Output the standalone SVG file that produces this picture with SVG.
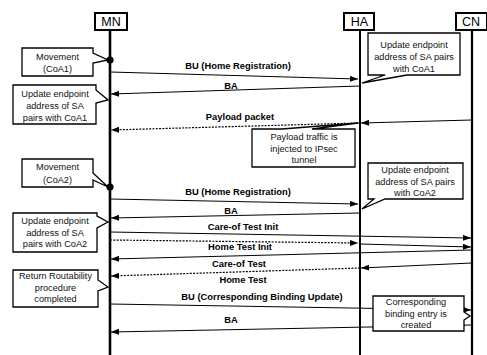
<svg xmlns="http://www.w3.org/2000/svg" width="487" height="355" viewBox="0 0 487 355">
<style>
.hdr{fill:#fff;stroke:#000;stroke-width:2}
.hdrt{font-family:"Liberation Sans",Arial,sans-serif;font-size:12.5px;text-anchor:middle;fill:#000}
.life{stroke:#000;fill:none}
.msg{stroke:#000;stroke-width:1.2;fill:none;marker-end:url(#ah)}
.dot{stroke-dasharray:2,1.3}
.lbl{font-family:"Liberation Sans",Arial,sans-serif;font-size:9.4px;font-weight:bold;text-anchor:middle;fill:#000}
.note{fill:#fff;stroke:#000;stroke-width:1.3;stroke-linejoin:miter}
.nt{font-family:"Liberation Sans",Arial,sans-serif;font-size:9.2px;text-anchor:middle;fill:#111}
</style>
<defs>
<marker id="ah" markerUnits="userSpaceOnUse" markerWidth="9" markerHeight="7" refX="8" refY="3" orient="auto">
<path d="M0,0 L8,3 L0,6 z" fill="#000"/>
</marker>
</defs>
<rect width="487" height="355" fill="#fff"/>

<g id="MN">
<line class="life" x1="110" y1="30" x2="110" y2="355" stroke-width="2.6"/>
<rect class="hdr" x="95" y="13" width="32" height="17"/>
<text class="hdrt" x="111" y="26">MN</text>
</g>
<g id="HA">
<line class="life" x1="360" y1="30" x2="360" y2="355" stroke-width="2"/>
<rect class="hdr" x="344" y="13" width="30" height="17"/>
<text class="hdrt" x="359.5" y="26">HA</text>
</g>
<g id="CN">
<line class="life" x1="472" y1="30" x2="472" y2="355" stroke-width="2.2"/>
<rect class="hdr" x="456" y="13" width="31" height="17"/>
<text class="hdrt" x="471" y="26">CN</text>
</g>

<g id="connectors">
<line class="msg" x1="110" y1="72" x2="358" y2="79"/>
<text class="lbl" x="238" y="69">BU (Home Registration)</text>
<line class="msg" x1="360" y1="86" x2="111" y2="94"/>
<text class="lbl" x="231" y="89">BA</text>
<line class="msg" x1="472" y1="120" x2="361" y2="123"/>
<line class="msg dot" x1="359" y1="123" x2="111" y2="130"/>
<text class="lbl" x="240" y="120">Payload packet</text>

<line class="msg" x1="110" y1="199" x2="358" y2="204"/>
<text class="lbl" x="238" y="195">BU (Home Registration)</text>
<line class="msg" x1="360" y1="213" x2="111" y2="218"/>
<text class="lbl" x="231" y="214">BA</text>

<line class="msg" x1="110" y1="232" x2="471" y2="238"/>
<text class="lbl" x="243" y="230">Care-of Test Init</text>
<line class="msg dot" x1="110" y1="240" x2="358" y2="243"/>
<line class="msg" x1="360" y1="244" x2="471" y2="247"/>
<text class="lbl" x="240" y="250">Home Test Init</text>
<line class="msg" x1="472" y1="250" x2="111" y2="259"/>
<text class="lbl" x="239" y="267">Care-of Test</text>
<line class="msg" x1="472" y1="263" x2="361" y2="268"/>
<line class="msg dot" x1="360" y1="268" x2="111" y2="276"/>
<text class="lbl" x="243" y="283">Home Test</text>
<line class="msg" x1="110" y1="304" x2="471" y2="310"/>
<text class="lbl" x="262" y="300">BU (Corresponding Binding Update)</text>
<line class="msg" x1="472" y1="325" x2="111" y2="332"/>
<text class="lbl" x="231" y="323">BA</text>
</g>

<g id="dot1"><circle cx="110" cy="60" r="3.6" fill="#000"/></g>
<g id="dot2"><circle cx="110" cy="187" r="3.6" fill="#000"/></g>

<g id="note-movement1">
<path class="note" d="M22,48 H93 V53 L108,60 L93,63 V76 H22 Z"/>
<text class="nt" x="57.5" y="60">Movement</text>
<text class="nt" x="57.5" y="72">(CoA1)</text>
</g>
<g id="note-mn-coa1">
<path class="note" d="M13,85 H96 V90 L108,100 L96,103 V124 H13 Z"/>
<text class="nt" x="55" y="97">Update endpoint</text>
<text class="nt" x="55" y="109">address of SA</text>
<text class="nt" x="55" y="121">pairs with CoA1</text>
</g>
<g id="note-ha-coa1">
<path class="note" d="M368,33 H460 V75 H407 L362,83 L385,75 H368 Z"/>
<text class="nt" x="414" y="48">Update endpoint</text>
<text class="nt" x="414" y="60">address of SA pairs</text>
<text class="nt" x="414" y="72">with CoA1</text>
</g>
<g id="note-payload">
<path class="note" d="M252,129 H282 L358,123 L312,129 H355 V167 H252 Z"/>
<text class="nt" x="304" y="140">Payload traffic is</text>
<text class="nt" x="304" y="152">injected to IPsec</text>
<text class="nt" x="304" y="163">tunnel</text>
</g>
<g id="note-movement2">
<path class="note" d="M22,159 H93 V173 L108,187 L93,180 V187 H22 Z"/>
<text class="nt" x="57.5" y="170">Movement</text>
<text class="nt" x="57.5" y="183">(CoA2)</text>
</g>
<g id="note-ha-coa2">
<path class="note" d="M368,163 H463 V199 H385 L362,209 L374,199 H368 Z"/>
<text class="nt" x="415" y="173">Update endpoint</text>
<text class="nt" x="415" y="185">address of SA pairs</text>
<text class="nt" x="415" y="196">with CoA2</text>
</g>
<g id="note-mn-coa2">
<path class="note" d="M13,213 H97 V216 L108,222 L97,228 V252 H13 Z"/>
<text class="nt" x="55" y="224">Update endpoint</text>
<text class="nt" x="55" y="236">address of SA</text>
<text class="nt" x="55" y="247">pairs with CoA2</text>
</g>
<g id="note-rr">
<path class="note" d="M13,270 H98 V280 L108,287 L98,291 V307 H13 Z"/>
<text class="nt" x="55.5" y="279">Return Routability</text>
<text class="nt" x="55.5" y="291">procedure</text>
<text class="nt" x="55.5" y="302">completed</text>
</g>
<g id="note-binding">
<path class="note" d="M373,296 H464 V312 L470,316 L464,320 V331 H373 Z"/>
<text class="nt" x="416" y="305">Corresponding</text>
<text class="nt" x="416" y="317">binding entry is</text>
<text class="nt" x="416" y="328">created</text>
</g>
</svg>
